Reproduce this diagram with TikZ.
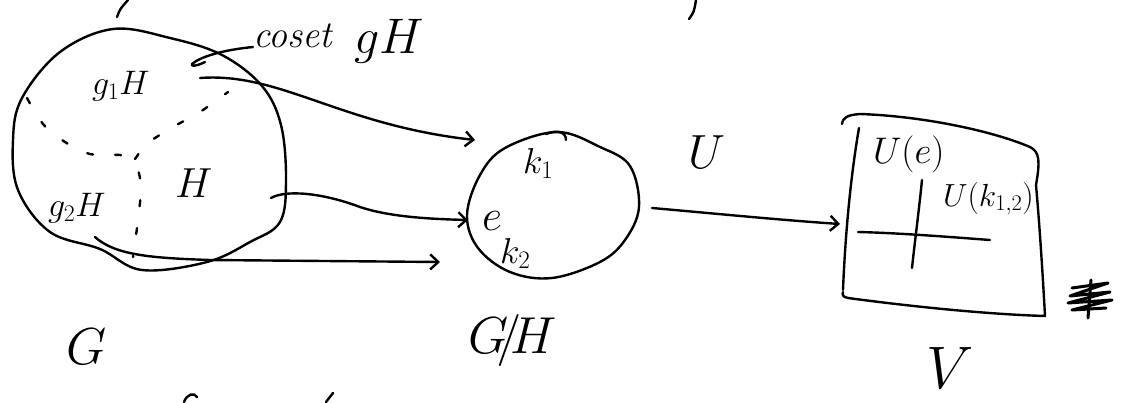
\RequirePackage{fix-cm}
\documentclass[tikz,border=0pt]{standalone}
\usepackage{xcolor}
\usepackage{tikz}
\usetikzlibrary{arrows.meta,positioning,calc}

\tikzset{
  pen/.style={line width=2.4pt, line cap=round, line join=round},
  sym/.style={inner sep=0pt, outer sep=0pt, anchor=base west},
  maparrow/.style={pen, -{Straight Barb[length=8pt,width=15pt]}},
  cut/.style={pen, dash pattern=on 6pt off 22pt},
}
\newcommand{\fs}[1]{\fontsize{#1}{#1}\selectfont}

\begin{document}
\begin{tikzpicture}[x=1pt,y=-1pt]
  \useasboundingbox (0,0) rectangle (1128,402);

  % the group G, cut into cosets
  \draw[pen] plot[smooth cycle, tension=0.6] coordinates {(113,29) (170,38) (222,55) (262,86) (281,125) (286,180) (280,222) (250,242) (207,262) (142,270) (100,249) (50,232) (18,190) (13,140) (22,98) (60,52)};
  \coordinate (mid) at (135,159);
  \draw[cut] plot[smooth] coordinates {(27,98) (43,124) (65,142) (90,154) (120,155) (mid)};
  \draw[cut] plot[smooth] coordinates {(mid) (148,143) (173,127) (200,112) (228,92)};
  \draw[cut, dash phase=14pt] plot[smooth] coordinates {(mid) (141,185) (138,220) (133,257)};

  \node[sym, font=\fs{34}] (g1H) at (92,94) {$g_1 H$};
  \node[sym, font=\fs{34}] (g2H) at (48,216) {$g_2 H$};
  \node[sym, font=\fs{42}] (H) at (175,197) {$H$};
  \node[sym, font=\fs{52}] (G) at (66,364) {$G$};

  \node[sym, font=\fs{38}\itshape] (coset) at (253,47) {coset};
  \node[sym, font=\fs{50}] (gH) at (354,53) {$gH$};
  \coordinate (cosetpt) at (192,64);
  \draw[pen] (coset.base west) .. controls (222,50) and (200,57) .. (cosetpt) .. controls (190,67) and (197,66) .. (205,62);

  % the coset space G/H
  \draw[pen] plot[smooth cycle, tension=0.6] coordinates {(557,132) (600,147) (630,166) (639,207) (625,240) (600,262) (552,278) (510,272) (478,248) (467,215) (480,175) (505,148)};
  \draw[pen] (546,134) .. controls (556,130) and (566,131) .. (566,140);
  \node[sym, font=\fs{36}] (k1) at (523,173) {$k_1$};
  \node[sym, font=\fs{44}] (e) at (482,230) {$e$};
  \node[sym, font=\fs{36}] (k2) at (500,263) {$k_2$};
  \node[sym, font=\fs{52}] (GH) at (468,353) {$G\mkern-4mu/\mkern-4mu H$};

  % cosets go to points
  \coordinate (a1s) at (200,78);
  \coordinate (a1e) at (475,140);
  \coordinate (a2s) at (271,198);
  \coordinate (a2e) at (468,220);
  \coordinate (a3s) at (95,237);
  \coordinate (a3e) at (440,262);
  \draw[maparrow] (a1s) .. controls (280,72) and (340,125) .. (a1e);
  \draw[maparrow] (a2s) .. controls (285,190) and (320,192) .. (360,207) .. controls (390,217) and (430,219) .. (a2e);
  \draw[maparrow] (a3s) .. controls (115,255) and (150,258) .. (210,260) -- (a3e);

  % the representation U on V
  \node[sym, font=\fs{48}] (U) at (688,168) {$U$};
  \coordinate (qout) at (652,208);
  \coordinate (vin) at (840,224);
  \draw[maparrow] (qout) .. controls (720,214) and (780,220) .. (vin);

  \draw[pen] (842,124) .. controls (843,117) and (848,115) .. (860,114) .. controls (920,116) and (990,130) .. (1030,147) .. controls (1040,152) and (1040,162) .. (1036,185) .. controls (1040,230) and (1043,280) .. (1045,316) .. controls (980,314) and (900,305) .. (848,298) .. controls (843,297) and (842,295) .. (843,292);
  \draw[pen] (859,128) .. controls (850,180) and (845,240) .. (843,290);
  \draw[pen] (858,232) .. controls (900,233) and (950,237) .. (990,240);
  \draw[pen] (922,180) .. controls (919,210) and (915,240) .. (912,268);
  \node[sym, font=\fs{37}] (Ue) at (873,163) {$U(e)$};
  \node[sym, font=\fs{32}] (Uk) at (943,206) {$U(k_{1,2})$};
  \node[sym, font=\fs{60}] (V) at (926,388) {$V$};

  % scribbled-out mark
  \draw[pen, line width=3pt] (1072,288) -- (1108,283) -- (1070,296) -- (1110,292) -- (1068,303) -- (1112,300) -- (1072,310) -- (1106,308);
  \draw[pen, line width=3pt] (1091,280) -- (1088,318);

  % cut-off strokes at the edges
  \draw[pen] (117,17) .. controls (120,9) .. (128,0);
  \draw[pen] (689,19) .. controls (694,12) .. (696,0);
  \draw[pen] (184,402) .. controls (187,394) and (194,392) .. (197,397);
  \draw[pen] (326,402) -- (333,393);
\end{tikzpicture}
\end{document}
